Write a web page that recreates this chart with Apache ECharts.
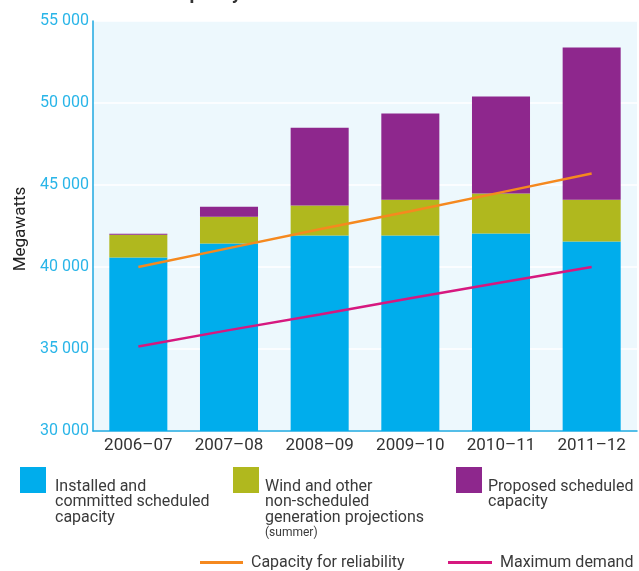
<!DOCTYPE html>
<html>
<head>
<meta charset="utf-8">
<script src="https://cdn.jsdelivr.net/npm/echarts@6/dist/echarts.min.js"></script>
<style>
html,body{margin:0;padding:0;background:#fff;}
#chart{width:639px;height:571px;}
</style>
</head>
<body>
<div id="chart"></div>
<script>
var categories = ['2006–07', '2007–08', '2008–09', '2009–10', '2010–11', '2011–12'];
var installed = [40580, 41435, 41923, 41923, 42045, 41557];
var wind = [1386, 1630, 1832, 2180, 2442, 2546];
var proposed = [60, 610, 4743, 5250, 5903, 9280];
var reliability = [40000, 41150, 42300, 43400, 44550, 45700];
var maxDemand = [35150, 36150, 37100, 38100, 39050, 40000];
var yMin = 30000, yMax = 55000, yStep = 5000;

var FONT = 'Roboto';
var TXT = '#3a3a3a';
var names = {
  a: 'Installed and committed scheduled capacity',
  b: 'Wind and other non-scheduled generation projections (summer)',
  c: 'Proposed scheduled capacity',
  d: 'Capacity for reliability',
  e: 'Maximum demand'
};
function fmt(v){ return String(v).replace(/\B(?=(\d{3})+$)/g, ' '); }
function richText(sp, padLeft){
  return {
    color: TXT, fontFamily: FONT, fontSize: 16, lineHeight: 15.5,
    rich: {
      sp: {fontSize: 4, lineHeight: sp},
      m: {color: TXT, fontFamily: FONT, fontSize: 16, lineHeight: 15.5, padding: [0, 0, 0, padLeft]},
      s: {color: TXT, fontFamily: FONT, fontSize: 12, lineHeight: 15, padding: [0, 0, 0, padLeft]}
    }
  };
}

var chart = echarts.init(document.getElementById('chart'), null, {renderer:'canvas'});
var legendBase = {
  orient: 'horizontal', padding: 0, selectedMode: false, icon: 'rect',
  itemWidth: 26, itemHeight: 26
};
chart.setOption({
  animation: false,
  backgroundColor: '#ffffff',
  title: {
    text: 'Generation capacity', left: 66, top: -21,
    textStyle: {fontFamily: FONT, fontSize: 19, lineHeight: 20, fontWeight: 'bold', color: '#333'}
  },
  grid: {left: 93, right: 2, top: 21, bottom: 140, show: true, backgroundColor: '#edf8fd', borderWidth: 0},
  xAxis: {
    type: 'category', data: categories,
    axisLine: {show: true, lineStyle: {color: '#1ea9e1', width: 1.5}},
    axisTick: {show: false},
    axisLabel: {color: '#333', fontFamily: FONT, fontSize: 17, margin: 6}
  },
  yAxis: {
    type: 'value', min: yMin, max: yMax, interval: yStep,
    name: 'Megawatts', nameLocation: 'middle', nameGap: 54, nameRotate: 90,
    nameTextStyle: {color: '#222', fontFamily: FONT, fontSize: 17, padding: [0, 6, 0, 0]},
    axisLine: {show: true, lineStyle: {color: '#1ea9e1', width: 1.5}},
    axisTick: {show: false},
    splitLine: {show: true, lineStyle: {color: '#ffffff', width: 1.5}},
    axisLabel: {color: '#29b5e8', fontFamily: FONT, fontSize: 16, margin: 4, formatter: fmt}
  },
  legend: [
    Object.assign({}, legendBase, {
      left: 20, top: 434.75, data: [names.a],
      formatter: function(){ return '{sp| }\n{m|Installed and}\n{m|committed scheduled}\n{m|capacity}'; },
      textStyle: richText(44, 4)
    }),
    Object.assign({}, legendBase, {
      left: 233, top: 419.75, data: [names.b],
      formatter: function(){ return '{sp| }\n{m|Wind and other}\n{m|non-scheduled}\n{m|generation projections}\n{s|(summer)}'; },
      textStyle: richText(59, 1)
    }),
    Object.assign({}, legendBase, {
      left: 456, top: 450.25, data: [names.c],
      formatter: function(){ return '{sp| }\n{m|Proposed scheduled}\n{m|capacity}'; },
      textStyle: richText(28.5, 1)
    }),
    {
      left: 200, top: 553.5, padding: 0, selectedMode: false, icon: 'rect', itemWidth: 43, itemHeight: 3,
      data: [names.d],
      textStyle: {color: TXT, fontFamily: FONT, fontSize: 16, lineHeight: 18, padding: [0, 0, 0, 3]}
    },
    {
      left: 448, top: 553.5, padding: 0, selectedMode: false, icon: 'rect', itemWidth: 44, itemHeight: 3,
      data: [names.e],
      textStyle: {color: TXT, fontFamily: FONT, fontSize: 16, lineHeight: 18, padding: [0, 0, 0, 3]}
    }
  ],
  series: [
    {name: names.a, type: 'bar', stack: 'cap', data: installed, barWidth: '64%', itemStyle: {color: '#00adec'}},
    {name: names.b, type: 'bar', stack: 'cap', data: wind, itemStyle: {color: '#b0b81e'}},
    {name: names.c, type: 'bar', stack: 'cap', data: proposed, itemStyle: {color: '#8e278d'}},
    {name: names.d, type: 'line', data: reliability, symbol: 'none', lineStyle: {color: '#f5891f', width: 2.5}, itemStyle: {color: '#f5891f'}},
    {name: names.e, type: 'line', data: maxDemand, symbol: 'none', lineStyle: {color: '#d6187f', width: 2.5}, itemStyle: {color: '#d6187f'}}
  ]
});
</script>
</body>
</html>
